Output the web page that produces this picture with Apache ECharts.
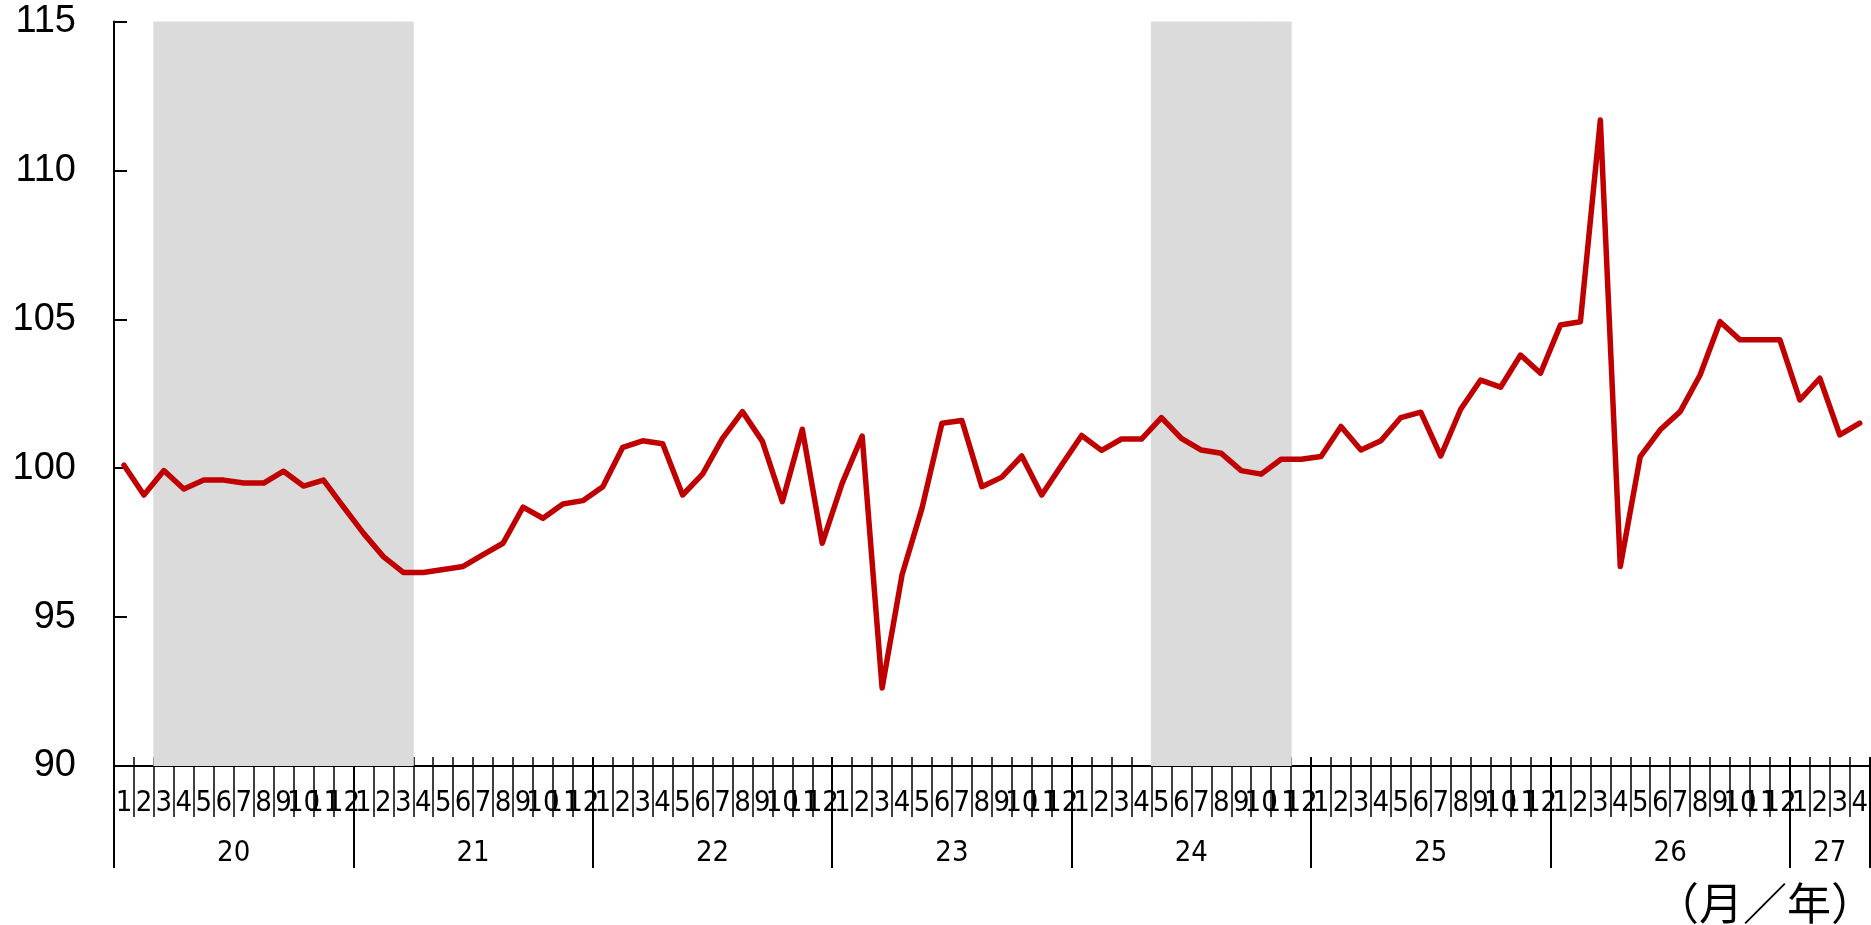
<!DOCTYPE html>
<html>
<head>
<meta charset="utf-8">
<script src="https://cdn.jsdelivr.net/npm/echarts@6/dist/echarts.min.js"></script>
<style>
html,body{margin:0;padding:0;background:#fff;}
#chart{width:1871px;height:925px;}
</style>
</head>
<body>
<div id="chart"></div>
<script>
// ---- data ----
const years = ['20', '21', '22', '23', '24', '25', '26', '27'];
const monthsInYear = [12, 12, 12, 12, 12, 12, 12, 4];
const v2020 = [100.1, 99.1, 99.92, 99.3, 99.6, 99.6, 99.5, 99.5, 99.9, 99.4, 99.6, 98.7];
const v2021 = [97.82, 97.03, 96.5, 96.5, 96.6, 96.7, 97.1, 97.48, 98.69, 98.32, 98.8, 98.91];
const v2022 = [99.38, 100.7, 100.92, 100.82, 99.1, 99.8, 101.0, 101.9, 100.9, 98.88, 101.31, 97.48];
const v2023 = [99.5, 101.08, 92.62, 96.42, 98.66, 101.51, 101.6, 99.38, 99.7, 100.41, 99.1, 100.11];
const v2024 = [101.1, 100.6, 100.98, 100.98, 101.7, 101.0, 100.61, 100.5, 99.92, 99.8, 100.3, 100.3];
const v2025 = [100.39, 101.4, 100.61, 100.92, 101.7, 101.88, 100.41, 101.98, 102.96, 102.72, 103.8, 103.19];
const v2026 = [104.81, 104.92, 111.69, 96.7, 100.39, 101.29, 101.9, 103.13, 104.92, 104.31, 104.31, 104.31];
const v2027 = [102.29, 103.02, 101.12, 101.51];
const shadedPeriods = [['20/3', '21/3'], ['24/5', '24/11']];
const yTicks = { min: 90, max: 115, interval: 5 };
const unitLabel = '（月／年）';

// ---- build ----
const categories = [];
years.forEach((y, i) => { for (let m = 1; m <= monthsInYear[i]; m++) categories.push(y + '/' + m); });
const values = [].concat(v2020, v2021, v2022, v2023, v2024, v2025, v2026, v2027);
const shadeData = categories.map(() => '-');
shadedPeriods.forEach(([a, b]) => {
  const s = categories.indexOf(a), e = categories.indexOf(b);
  for (let i = s; i <= e; i++) shadeData[i] = yTicks.max;
});
const yearLabelIdx = {};
let acc = 0;
years.forEach((y, i) => { yearLabelIdx[acc + Math.floor(monthsInYear[i] / 2)] = y; acc += monthsInYear[i]; });
const yearStartIdx = {};
acc = 0;
years.forEach((y, i) => { yearStartIdx[acc] = true; acc += monthsInYear[i]; });

const narrow = '"Liberation Sans Narrow", "DejaVu Sans Condensed", "Liberation Sans", sans-serif';

const chart = echarts.init(document.getElementById('chart'), null, { renderer: 'canvas' });
chart.setOption({
  animation: false,
  backgroundColor: '#fff',
  title: {
    text: unitLabel, left: 1655, top: 881, padding: 0,
    textStyle: { fontSize: 44, fontWeight: 'normal', color: '#000', fontFamily: '"Noto Sans CJK JP", sans-serif' }
  },
  grid: { left: 114, right: 1, top: 21.5, bottom: 159, containLabel: false },
  xAxis: [
    {
      type: 'category', data: categories, position: 'bottom', boundaryGap: true,
      axisLine: { show: true, lineStyle: { color: '#000', width: 2 } },
      axisTick: { show: false },
      axisLabel: {
        interval: 0, margin: 37, verticalAlign: 'middle', fontSize: 29, color: '#000',
        fontFamily: narrow, formatter: (v) => v.split('/')[1]
      },
      splitLine: { show: false }
    },
    {
      type: 'category', data: categories, position: 'bottom', offset: -9, boundaryGap: true,
      axisLine: { show: false },
      axisTick: { show: true, interval: 0, length: 60, lineStyle: { color: '#000', width: 1.5 } },
      axisLabel: { show: false },
      splitLine: { show: false }
    },
    {
      type: 'category', data: categories, position: 'bottom', offset: -9, boundaryGap: true,
      axisLine: { show: false },
      axisTick: { show: true, interval: (idx) => !!yearStartIdx[idx], length: 111, lineStyle: { color: '#000', width: 2 } },
      axisLabel: {
        show: true, interval: (idx) => yearLabelIdx[idx] !== undefined, margin: 96,
        verticalAlign: 'middle', fontSize: 29, color: '#000', fontFamily: narrow,
        padding: [0, 20, 0, 0],
        formatter: (v, idx) => yearLabelIdx[idx] !== undefined ? yearLabelIdx[idx] : ''
      },
      splitLine: { show: false }
    }
  ],
  yAxis: {
    type: 'value', min: yTicks.min, max: yTicks.max, interval: yTicks.interval,
    axisLine: { show: true, lineStyle: { color: '#000', width: 2 } },
    axisTick: { show: true, inside: true, length: 13, lineStyle: { color: '#000', width: 2 } },
    axisLabel: { margin: 38, fontSize: 38, color: '#000', fontFamily: '"Liberation Sans", Arial, sans-serif' },
    splitLine: { show: false }
  },
  series: [
    {
      type: 'bar', data: shadeData, barWidth: 21, silent: true, clip: true,
      itemStyle: { color: '#dbdbdb' }, z: 1
    },
    {
      type: 'line', data: values, symbol: 'none', smooth: false, z: 5,
      lineStyle: { color: '#c00000', width: 5.5, cap: 'round', join: 'round' }
    }
  ]
});
</script>
</body>
</html>
